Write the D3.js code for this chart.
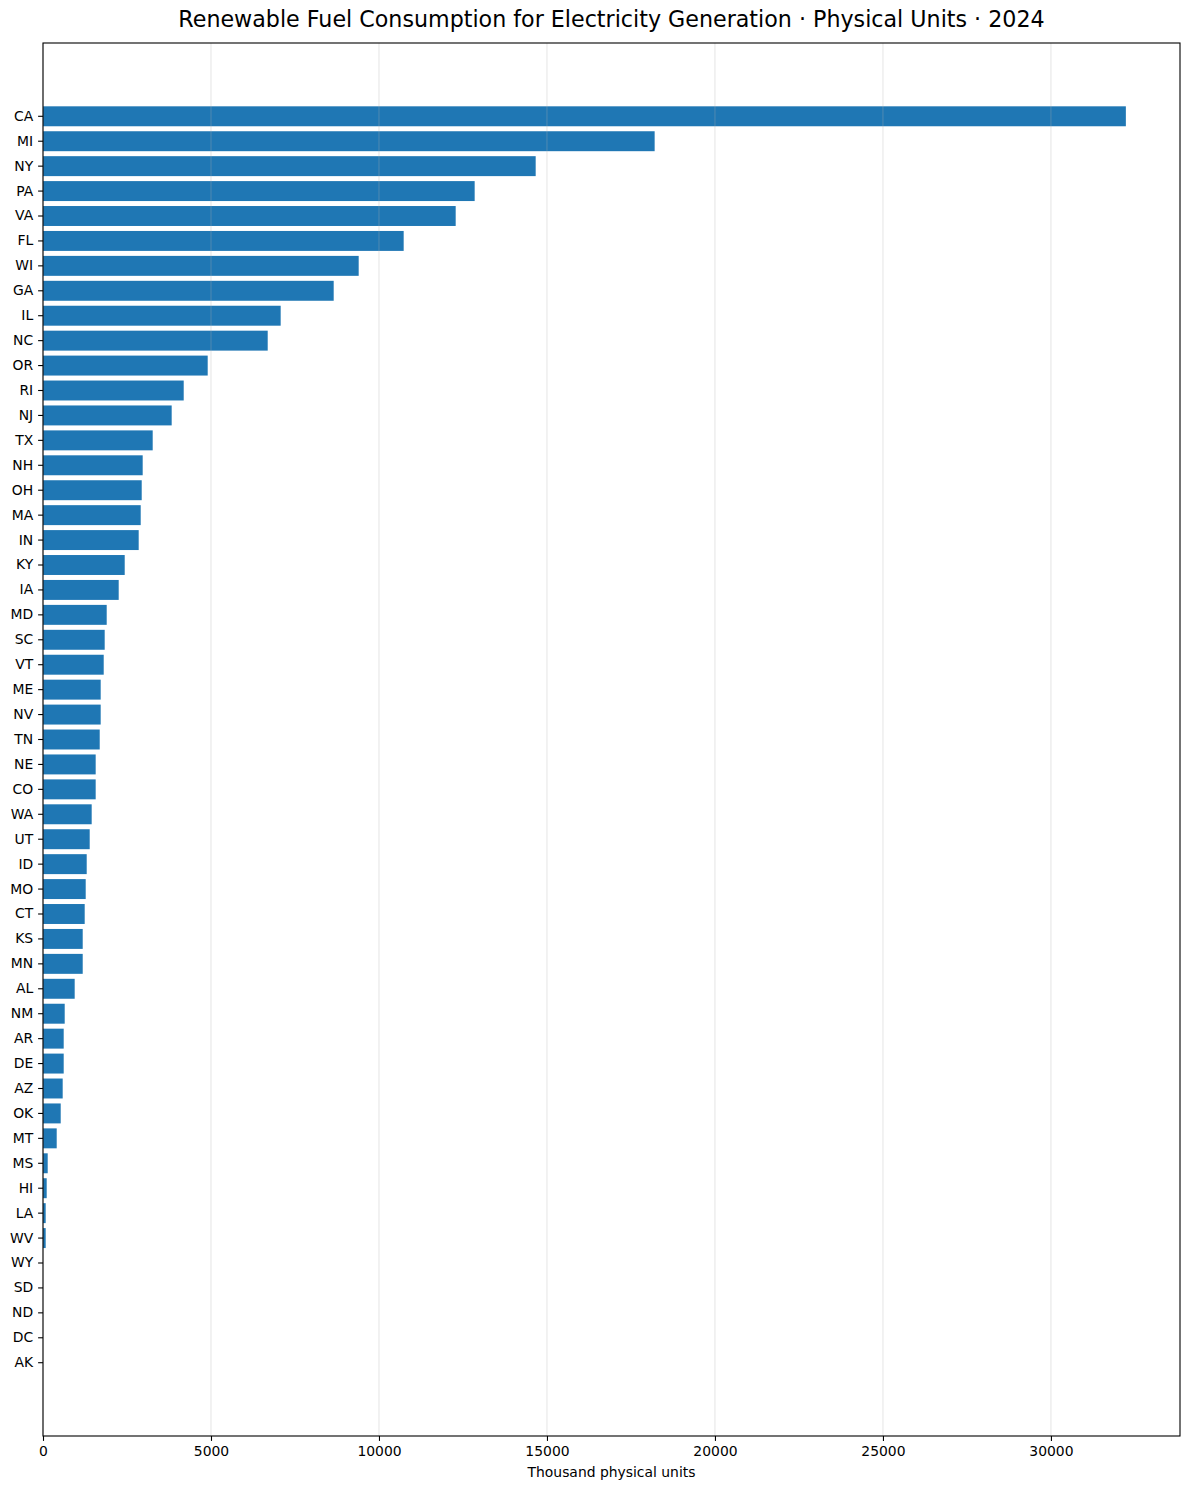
<!DOCTYPE html>
<html>
<head>
<meta charset="utf-8">
<script src="https://cdn.jsdelivr.net/npm/d3@7"></script>
<style>
  body { margin: 0; background: #fff; }
  svg text { font-family: "DejaVu Sans", sans-serif; fill: #000; }
</style>
</head>
<body>
<div class="container"></div>
<script>
const states = ["CA", "MI", "NY", "PA", "VA", "FL", "WI", "GA", "IL", "NC",
  "OR", "RI", "NJ", "TX", "NH", "OH", "MA", "IN", "KY", "IA",
  "MD", "SC", "VT", "ME", "NV", "TN", "NE", "CO", "WA", "UT",
  "ID", "MO", "CT", "KS", "MN", "AL", "NM", "AR", "DE", "AZ",
  "OK", "MT", "MS", "HI", "LA", "WV", "WY", "SD", "ND", "DC", "AK"]
const consumption = [32230, 18205, 14664, 12848, 12283, 10735, 9396, 8652, 7074, 6688,
  4902, 4188, 3830, 3265, 2967, 2938, 2908, 2848, 2432, 2253,
  1896, 1836, 1807, 1717, 1717, 1688, 1568, 1568, 1449, 1390,
  1301, 1271, 1241, 1182, 1182, 943, 646, 616, 616, 586,
  527, 408, 140, 110, 80, 80, 0, 0, 0, 0, 0]
const xTicks = [0, 5000, 10000, 15000, 20000, 25000, 30000]

const titleText = "Renewable Fuel Consumption for Electricity Generation · Physical Units · 2024"
const xLabel = "Thousand physical units"

const drawChart = () => {
  const w = 1189
  const h = 1490
  const margin = { top: 43, right: 9, bottom: 54, left: 43 }
  const data = states.map((s, i) => ({ state: s, value: consumption[i] }))

  const xMax = d3.max(consumption) * 1.05
  const xScale = d3.scaleLinear().domain([0, xMax]).range([margin.left, w - margin.right])
  const yScale = d3.scaleBand().domain(states)
    .range([margin.top, h - margin.bottom])
    .paddingInner(0.2)
    .paddingOuter(2.54)

  const svg = d3.select(".container")
    .append("svg")
    .attr("width", w)
    .attr("height", h)

  svg.append("text")
    .attr("x", (margin.left + w - margin.right) / 2)
    .attr("y", 27)
    .attr("text-anchor", "middle")
    .style("font-size", "22.2px")
    .text(titleText)

  svg.selectAll("rect.bar")
    .data(data)
    .enter()
    .append("rect")
    .attr("class", "bar")
    .attr("x", xScale(0))
    .attr("y", (d) => yScale(d.state))
    .attr("width", (d) => xScale(d.value) - xScale(0))
    .attr("height", yScale.bandwidth())
    .attr("fill", "#1f77b4")

  // vertical grid, drawn over the bars like the original
  svg.append("g")
    .selectAll("line")
    .data(xTicks)
    .enter()
    .append("line")
    .attr("x1", (d) => xScale(d))
    .attr("x2", (d) => xScale(d))
    .attr("y1", margin.top)
    .attr("y2", h - margin.bottom)
    .attr("stroke", "#b0b0b0")
    .attr("stroke-opacity", 0.3)
    .attr("stroke-width", 1.1)

  const xAxis = d3.axisBottom(xScale).tickValues(xTicks).tickFormat(d3.format("d"))
    .tickSize(4.9).tickPadding(4.9)
  const yAxis = d3.axisLeft(yScale).tickSize(4.9).tickPadding(4.9)

  const gx = svg.append("g")
    .attr("transform", "translate(0," + (h - margin.bottom) + ")")
    .call(xAxis)
  const gy = svg.append("g")
    .attr("transform", "translate(" + margin.left + ",0)")
    .call(yAxis)

  ;[gx, gy].forEach((g) => {
    g.select(".domain").remove()
    g.selectAll(".tick line").attr("stroke", "#000").attr("stroke-width", 1.1)
    g.selectAll(".tick text").style("font-size", "13.9px").attr("fill", "#000")
  })

  // frame
  svg.append("rect")
    .attr("x", margin.left)
    .attr("y", margin.top)
    .attr("width", w - margin.left - margin.right)
    .attr("height", h - margin.top - margin.bottom)
    .attr("fill", "none")
    .attr("stroke", "#000")
    .attr("stroke-width", 1.1)

  svg.append("text")
    .attr("x", (margin.left + w - margin.right) / 2)
    .attr("y", 1477)
    .attr("text-anchor", "middle")
    .style("font-size", "13.9px")
    .text(xLabel)
}
document.addEventListener("DOMContentLoaded", drawChart)
</script>
</body>
</html>
